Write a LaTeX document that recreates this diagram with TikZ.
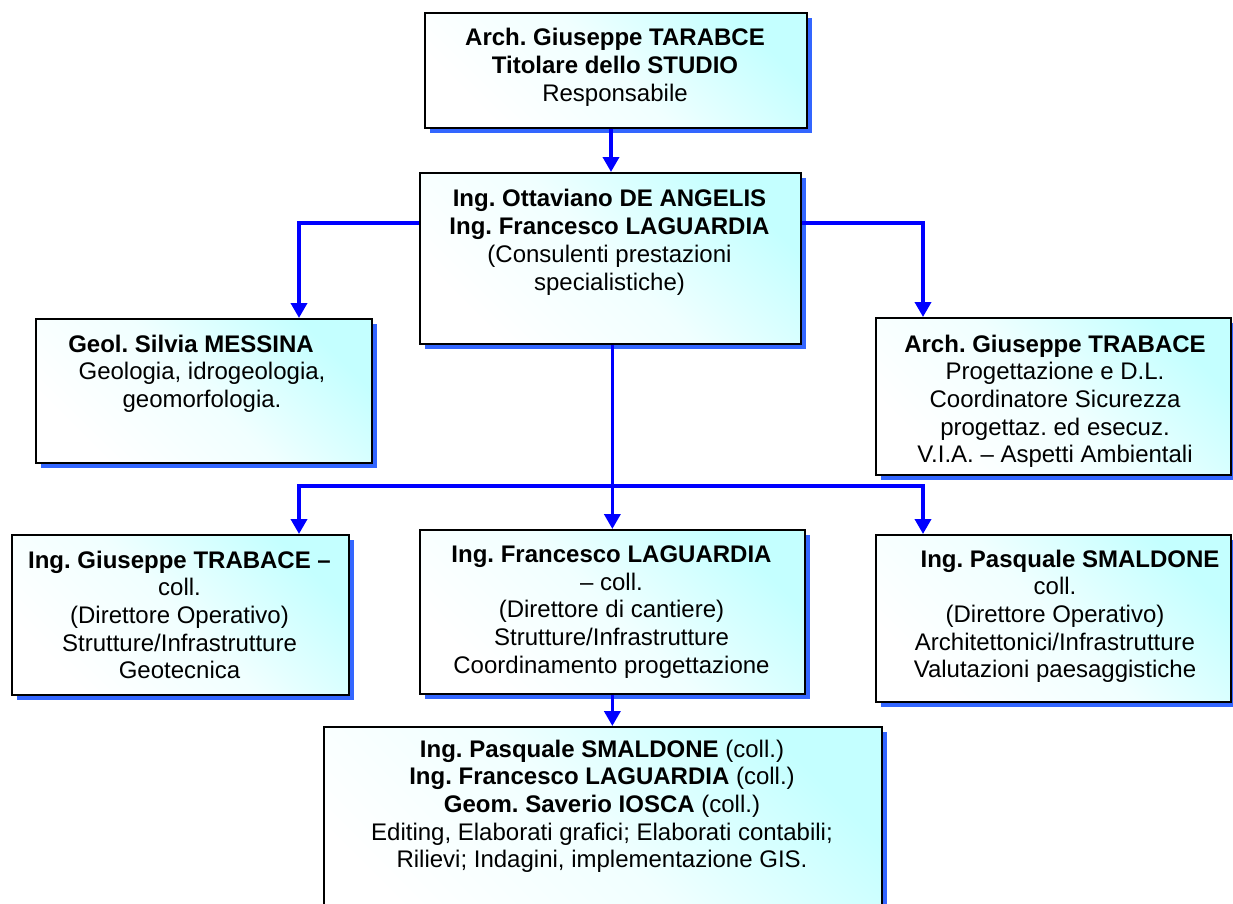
\documentclass[tikz,border=0pt]{standalone}
\usepackage{fontspec}
\setmainfont{Liberation Sans}
\usetikzlibrary{arrows.meta}
\definecolor{boxcyan}{RGB}{196,255,255}
\definecolor{shadowblue}{RGB}{51,102,255}
\definecolor{linkblue}{RGB}{0,0,255}
\frenchspacing
\begin{document}
\frenchspacing
\begin{tikzpicture}[x=1pt,y=-1pt,
  box/.style={rectangle, draw=black, line width=1.7pt, inner sep=0pt, anchor=north west,
    top color=boxcyan, bottom color=white, middle color=white!75!boxcyan, shading angle=-45,
    preaction={fill=shadowblue, transform canvas={shift={(5.5pt,-5.5pt)}}}},
  lbl/.style={anchor=north, inner sep=0pt, align=center, font=\fontsize{24}{27.7}\selectfont},
  link/.style={draw=linkblue, line width=3.6pt},
  arr/.style={link, -{Triangle[length=15pt,width=16pt]}}]
\useasboundingbox (0,0) rectangle (1233,903);
\clip (0,0) rectangle (1233,903);

% boxes
\node[box, minimum width=382pt, minimum height=115pt] (top) at (424,12) {};
\node[box, minimum width=381pt, minimum height=171pt] (cons) at (419,172) {};
\node[box, minimum width=336pt, minimum height=144pt] (geol) at (35,318) {};
\node[box, minimum width=355pt, minimum height=157pt] (arch) at (875,317) {};
\node[box, minimum width=337pt, minimum height=160pt] (ingl) at (11,534) {};
\node[box, minimum width=385pt, minimum height=164pt] (mid) at (419,529) {};
\node[box, minimum width=355pt, minimum height=167pt] (smal) at (875,534) {};
\node[box, minimum width=558pt, minimum height=220pt] (bot) at (323,726) {};

% texts
\node[lbl] (ttop) at (615,28.4) {\textbf{Arch. Giuseppe TARABCE}\\\textbf{Titolare dello STUDIO}\\Responsabile};
\node[lbl] (tcons) at (609.5,189.4) {\textbf{Ing. Ottaviano DE ANGELIS}\\\textbf{Ing. Francesco LAGUARDIA}\\(Consulenti prestazioni\\specialistiche)};
\node[lbl] (tgeol) at (202,334.4) {\textbf{Geol. Silvia MESSINA}\rule{22pt}{0pt}\\Geologia, idrogeologia,\\geomorfologia.};
\node[lbl] (tarch) at (1055,334.4) {\textbf{Arch. Giuseppe TRABACE}\\Progettazione e D.L.\\Coordinatore Sicurezza\\progettaz. ed esecuz.\\V.I.A. – Aspetti Ambientali};
\node[lbl] (tingl) at (179.5,550.4) {\textbf{Ing. Giuseppe TRABACE –}\\coll.\\(Direttore Operativo)\\Strutture/Infrastrutture\\Geotecnica};
\node[lbl] (tmid) at (611.5,545.4) {\textbf{Ing. Francesco LAGUARDIA}\\– coll.\\(Direttore di cantiere)\\Strutture/Infrastrutture\\Coordinamento progettazione};
\node[lbl] (tsmal) at (1055,549.4) {\rule{30pt}{0pt}\textbf{Ing. Pasquale SMALDONE}\\coll.\\(Direttore Operativo)\\Architettonici/Infrastrutture\\Valutazioni paesaggistiche};
\node[lbl] (tbot) at (602,739.4) {\textbf{Ing. Pasquale SMALDONE} (coll.)\\\textbf{Ing. Francesco LAGUARDIA} (coll.)\\\textbf{Geom. Saverio IOSCA} (coll.)\\Editing, Elaborati grafici; Elaborati contabili;\\Rilievi; Indagini, implementazione GIS.};

% junction coordinates
\coordinate (jl) at (299,223);
\coordinate (jr) at (923,223);
\coordinate (bl) at (299,486);
\coordinate (br) at (923,486);

% connectors
\draw[arr] (611,0 |- top.south) -- (611,0 |- cons.north);
\draw[arr] (cons.west |- jl) -| (jl |- geol.north);
\draw[arr] (cons.east |- jr) -| (jr |- arch.north);
\draw[arr] (mid.north |- cons.south) -- (mid.north);
\draw[arr] (mid.north |- bl) -| (bl |- ingl.north);
\draw[arr] (mid.north |- br) -| (br |- smal.north);
\draw[arr] (mid.south) -- (mid.south |- bot.north);
\end{tikzpicture}
\end{document}
